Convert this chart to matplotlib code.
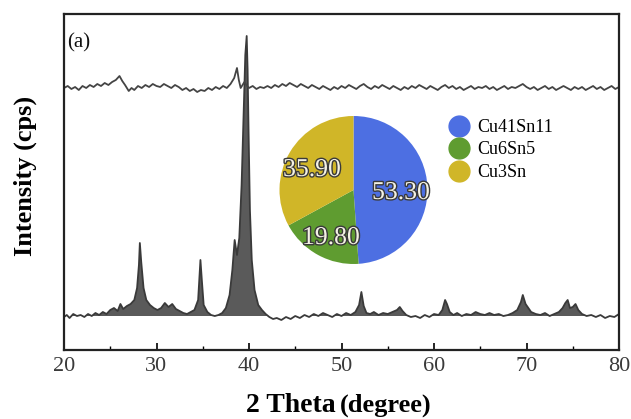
import matplotlib
matplotlib.use("Agg")
import matplotlib.pyplot as plt
import matplotlib.patheffects as pe
from matplotlib.lines import Line2D
import numpy as np

# ---------------- data ----------------
# lower XRD pattern: 2theta (deg), intensity (arb.)
low_tt = [20.0, 20.3, 20.6, 21.0, 21.4, 21.8, 22.2, 22.6, 23.0, 23.4, 23.8, 24.2, 24.6,
          25.0, 25.4, 25.8, 26.1, 26.4, 26.8, 27.2, 27.6, 27.9, 28.1, 28.2, 28.35, 28.6,
          28.9, 29.3, 29.7, 30.1, 30.5, 30.9, 31.3, 31.7, 32.1, 32.5, 32.9, 33.3, 33.7,
          34.1, 34.5, 34.75, 34.9, 35.1, 35.5, 35.9, 36.3, 36.7, 37.1, 37.5, 37.9, 38.2,
          38.45, 38.7, 38.95, 39.2, 39.45, 39.6, 39.75, 39.85, 39.95, 40.1, 40.3, 40.6,
          41.0, 41.4, 41.8, 42.2, 42.6, 43.0, 43.5, 44.0, 44.5, 45.0, 45.5, 46.0, 46.5,
          47.0, 47.5, 48.0, 48.5, 49.0, 49.5, 50.0, 50.5, 51.0, 51.5, 51.9, 52.15, 52.4,
          52.7, 53.1, 53.5, 54.0, 54.5, 55.0, 55.5, 56.0, 56.3, 56.6, 57.0, 57.5, 58.0,
          58.5, 59.0, 59.5, 60.0, 60.5, 60.9, 61.2, 61.4, 61.7, 62.1, 62.5, 63.0, 63.5,
          64.0, 64.5, 65.0, 65.5, 66.0, 66.5, 67.0, 67.5, 68.0, 68.5, 69.0, 69.4, 69.6,
          69.9, 70.2, 70.5, 71.0, 71.5, 72.0, 72.5, 73.0, 73.5, 73.9, 74.2, 74.45, 74.7,
          75.0, 75.3, 75.6, 76.0, 76.5, 77.0, 77.5, 78.0, 78.5, 79.0, 79.5, 80.0]
low_int = [33, 35, 32, 36, 34, 35, 33, 36, 34, 37, 35, 38, 36,
           40, 42, 39, 46, 41, 44, 46, 50, 62, 85, 107, 88, 62,
           50, 45, 42, 40, 42, 47, 43, 46, 41, 39, 37, 36, 38,
           40, 50, 90, 70, 45, 38, 35, 34, 35, 37, 42, 55, 80,
           110, 95, 112, 165, 245, 295, 314, 280, 220, 140, 90, 60,
           45, 40, 36, 33, 31, 32, 30, 33, 31, 34, 32, 35, 33,
           36, 34, 37, 35, 33, 36, 34, 37, 35, 38, 45, 58, 44,
           37, 36, 38, 35, 37, 36, 38, 40, 43, 39, 35, 33, 34,
           32, 35, 33, 36, 35, 40, 50, 46, 38, 35, 37, 34, 36,
           35, 38, 36, 35, 37, 35, 36, 34, 35, 37, 40, 48, 55,
           46, 42, 38, 36, 35, 37, 34, 36, 38, 42, 47, 50, 42,
           43, 46, 40, 36, 34, 35, 33, 35, 32, 34, 33, 36]
low_base = 34

# upper XRD pattern
up_tt = [20.0, 20.4, 20.8, 21.2, 21.6, 22.0, 22.4, 22.8, 23.2, 23.6, 24.0, 24.4, 24.8,
         25.2, 25.6, 26.0, 26.3, 26.6, 27.0, 27.3, 27.6, 28.0, 28.4, 28.8, 29.2, 29.6,
         30.0, 30.4, 30.8, 31.2, 31.6, 32.0, 32.4, 32.8, 33.2, 33.6, 34.0, 34.4, 34.8,
         35.2, 35.6, 36.0, 36.4, 36.8, 37.2, 37.6, 38.0, 38.4, 38.7, 38.9, 39.1, 39.3,
         39.5, 39.8, 40.0, 40.4, 40.8, 41.2, 41.6, 42.0, 42.4, 42.8, 43.2, 43.6, 44.0,
         44.4, 44.8, 45.2, 45.6, 46.0, 46.4, 46.8, 47.2, 47.6, 48.0, 48.4, 48.8, 49.2,
         49.6, 50.0, 50.4, 50.8, 51.2, 51.6, 52.0, 52.4, 52.8, 53.2, 53.6, 54.0, 54.4,
         54.8, 55.2, 55.6, 56.0, 56.4, 56.8, 57.2, 57.6, 58.0, 58.4, 58.8, 59.2, 59.6,
         60.0, 60.4, 60.8, 61.2, 61.6, 62.0, 62.4, 62.8, 63.2, 63.6, 64.0, 64.4, 64.8,
         65.2, 65.6, 66.0, 66.4, 66.8, 67.2, 67.6, 68.0, 68.4, 68.8, 69.2, 69.6, 70.0,
         70.4, 70.8, 71.2, 71.6, 72.0, 72.4, 72.8, 73.2, 73.6, 74.0, 74.4, 74.8, 75.2,
         75.6, 76.0, 76.4, 76.8, 77.2, 77.6, 78.0, 78.4, 78.8, 79.2, 79.6, 80.0]
up_int = [262, 264, 261, 263, 260, 264, 262, 265, 263, 266, 264, 267, 265,
          268, 270, 274, 269, 265, 259, 262, 260, 264, 262, 265, 263, 266,
          264, 263, 266, 264, 262, 265, 263, 260, 262, 259, 261, 258, 260,
          259, 262, 260, 263, 261, 264, 262, 266, 272, 282, 270, 262, 265,
          268, 264, 262, 264, 261, 263, 262, 264, 262, 265, 263, 266, 264,
          267, 265, 263, 266, 264, 262, 265, 263, 261, 264, 262, 260, 263,
          261, 264, 262, 265, 263, 261, 264, 266, 263, 261, 264, 262, 265,
          263, 261, 264, 262, 260, 263, 261, 264, 262, 265, 263, 261, 264,
          262, 260, 263, 265, 262, 264, 261, 263, 260, 262, 264, 261, 263,
          262, 264, 261, 263, 260, 262, 264, 261, 263, 262, 264, 266, 263,
          261, 263, 260, 262, 264, 261, 263, 260, 262, 264, 262, 260, 263,
          261, 263, 260, 262, 264, 261, 263, 260, 262, 264, 261, 263]

# inset pie (phase fractions)
phases = ["Cu41Sn11", "Cu6Sn5", "Cu3Sn"]
fractions = [53.30, 19.80, 35.90]
phase_colors = ["#4d6fe2", "#5f9c30", "#d0b628"]

x_ticks = [20, 30, 40, 50, 60, 70, 80]

# ---------------- figure ----------------
serif = ["Liberation Serif", "DejaVu Serif"]
plt.rcParams["font.family"] = serif

W, H = 631, 419
fig = plt.figure(figsize=(W / 100, H / 100), dpi=100)

def fx(px):
    return px / W

def fy(py):
    return 1 - py / H

ax = fig.add_axes([fx(64), fy(350), fx(619) - fx(64), fy(14) - fy(350)])

lt = np.array(low_tt)
li = np.array(low_int)
ax.fill_between(lt, low_base, li, where=li > low_base, interpolate=True,
                color="#5a5a5a", lw=0)
ax.plot(lt, li, color="#3a3a3a", lw=1.3)
ax.plot(up_tt, up_int, color="#444444", lw=1.3)

ax.set_xlim(20, 80)
ax.set_ylim(0, 336)
ax.set_yticks([])
ax.set_xticks(x_ticks)
ax.set_xticks(np.arange(25, 80, 10), minor=True)
ax.tick_params(axis="x", which="major", direction="in", length=5, width=1.2,
               labelsize=16, labelcolor="#3a3a3a", pad=5)
ax.tick_params(axis="x", which="minor", direction="in", length=3, width=1.0)
for s in ax.spines.values():
    s.set_linewidth(1.6)
    s.set_color("#222222")

fig.text(fx(67), fy(43), "(a)", fontsize=15, ha="left", va="center",
         color="#111111")

fig.text(fx(25), fy(176), "Intensity (cps)", fontsize=19, fontweight="bold",
         rotation=90, ha="center", va="center")

fig.text(fx(336), fy(412), "2 Theta", fontsize=20, fontweight="bold",
         ha="right", va="baseline")
fig.text(fx(340), fy(412), "(degree)", fontsize=19, fontweight="bold",
         ha="left", va="baseline")

# inset pie
cx, cy, r = 353.5, 190, 74
pax = fig.add_axes([fx(cx - r), fy(cy + r), fx(2 * r), fy(cy - r) - fy(cy + r)])
pax.pie(fractions, colors=phase_colors, startangle=90, counterclock=False,
        radius=1.0, wedgeprops=dict(linewidth=0))
pax.set_xlim(-1, 1)
pax.set_ylim(-1, 1)
pax.set_aspect("auto")
pax.axis("off")

label_px = [(401, 193), (331, 238), (312, 170)]
for (tx, ty), v in zip(label_px, fractions):
    fig.text(fx(tx), fy(ty), f"{v:.2f}", fontsize=18.5, color="#f4f2e4",
             ha="center", va="center",
             path_effects=[pe.withStroke(linewidth=2.0, foreground="#3a3a3a")])

handles = [Line2D([], [], marker="o", ls="", markersize=15,
                  markerfacecolor=c, markeredgecolor=c) for c in phase_colors]
fig.legend(handles, phases, loc="upper left",
           bbox_to_anchor=(fx(438), fy(110)), frameon=False, fontsize=13,
           handletextpad=0.35, labelspacing=0.3, borderpad=0, handlelength=1.3)

fig.savefig("out.png", dpi=100)
